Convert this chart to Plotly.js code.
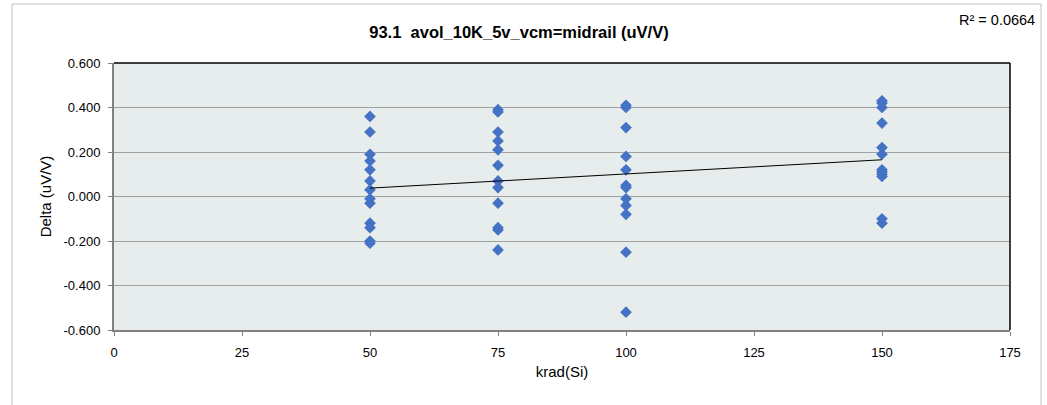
<!DOCTYPE html>
<html>
<head>
<meta charset="utf-8">
<script src="https://cdn.plot.ly/plotly-3.0.1.min.js"></script>
<style>html,body{margin:0;padding:0;background:#fff;}#chart{width:1047px;height:405px;}</style>
</head>
<body>
<div id="chart"></div>
<script>
// Data
const dose50 = [0.36, 0.29, 0.19, 0.16, 0.12, 0.07, 0.03, -0.01, -0.03, -0.12, -0.14, -0.20, -0.21];
const dose75 = [0.39, 0.38, 0.29, 0.25, 0.21, 0.14, 0.07, 0.04, -0.03, -0.14, -0.15, -0.24];
const dose100 = [0.41, 0.40, 0.31, 0.18, 0.12, 0.05, 0.04, -0.01, -0.04, -0.08, -0.25, -0.52];
const dose150 = [0.43, 0.42, 0.40, 0.33, 0.22, 0.19, 0.12, 0.11, 0.10, 0.09, -0.10, -0.12];
const doseLevels = [50, 75, 100, 150];
const xTickVals = [0, 25, 50, 75, 100, 125, 150, 175];
const yTickVals = [-0.6, -0.4, -0.2, 0, 0.2, 0.4, 0.6];
const chartTitle = "93.1  avol_10K_5v_vcm=midrail (uV/V)";
const rSquaredLabel = "R\u00b2 = 0.0664";

const groups = [dose50, dose75, dose100, dose150];
const xs = [], ys = [];
groups.forEach((g, i) => g.forEach(v => { xs.push(doseLevels[i]); ys.push(v); }));

// linear least-squares trendline
const n = xs.length;
const mx = xs.reduce((a, b) => a + b, 0) / n;
const my = ys.reduce((a, b) => a + b, 0) / n;
let sxy = 0, sxx = 0;
for (let i = 0; i < n; i++) { sxy += (xs[i] - mx) * (ys[i] - my); sxx += (xs[i] - mx) ** 2; }
const slope = sxy / sxx, intercept = my - slope * mx;
const xMin = Math.min(...xs), xMax = Math.max(...xs);

const font = "Liberation Sans, Arial, sans-serif";

const traces = [
  {
    x: xs, y: ys, type: 'scatter', mode: 'markers',
    marker: {symbol: 'diamond', size: 9, color: '#4472C4'},
    hoverinfo: 'x+y'
  },
  {
    x: [xMin, xMax], y: [intercept + slope * xMin, intercept + slope * xMax],
    type: 'scatter', mode: 'lines', line: {color: '#000000', width: 1}, hoverinfo: 'skip'
  }
];

const layout = {
  width: 1047, height: 405,
  margin: {l: 114, r: 37, t: 63, b: 75},
  paper_bgcolor: '#ffffff',
  plot_bgcolor: '#e7eced',
  showlegend: false,
  font: {family: font, color: '#000', size: 12},
  title: {text: '<b>' + chartTitle + '</b>', x: 0.452, xref: 'paper', xanchor: 'center',
          y: 1 - 32/405, yref: 'container', yanchor: 'middle', font: {size: 16.5, family: font}},
  xaxis: {
    range: [0, 175], tickvals: xTickVals, ticktext: xTickVals.map(String),
    showgrid: false, zeroline: false,
    showline: true, linecolor: '#808080', linewidth: 2,
    ticks: 'outside', ticklen: 4, tickcolor: '#808080',
    ticklabelstandoff: 5,
    tickfont: {size: 13, family: font},
    title: {text: 'krad(Si)', font: {size: 15, family: font}, standoff: 8},
    automargin: false
  },
  yaxis: {
    range: [-0.6, 0.6], tickvals: yTickVals, ticktext: yTickVals.map(v => v.toFixed(3)),
    showgrid: true, gridcolor: '#a0a0a0', gridwidth: 1, zeroline: false,
    showline: true, linecolor: '#808080', linewidth: 2,
    ticks: 'outside', ticklen: 4, tickcolor: '#808080',
    ticklabelstandoff: 5,
    tickfont: {size: 13, family: font},
    title: {text: 'Delta (uV/V)', font: {size: 15, family: font}, standoff: 8},
    automargin: false
  },
  shapes: [
    // top and right border of plot area
    {type: 'line', xref: 'paper', yref: 'paper', x0: 0, x1: 1, y0: 1, y1: 1, line: {color: '#000', width: 1.5}},
    {type: 'line', xref: 'paper', yref: 'paper', x0: 1, x1: 1, y0: 0, y1: 1, line: {color: '#000', width: 1.5}},
    // outer chart border
    {type: 'rect', xref: 'paper', yref: 'paper', x0: -102/896, x1: 927/896, y0: -80/267, y1: 326/267,
     line: {color: '#c0c0c0', width: 1}, fillcolor: 'rgba(0,0,0,0)'}
  ],
  annotations: [
    {text: rSquaredLabel, xref: 'paper', yref: 'paper', x: (1037 - 114)/896, y: (330 - 20)/267,
     xanchor: 'right', yanchor: 'middle', showarrow: false, font: {size: 14.5, family: font}}
  ]
};

Plotly.newPlot('chart', traces, layout, {displayModeBar: false, staticPlot: true});
</script>
</body>
</html>
